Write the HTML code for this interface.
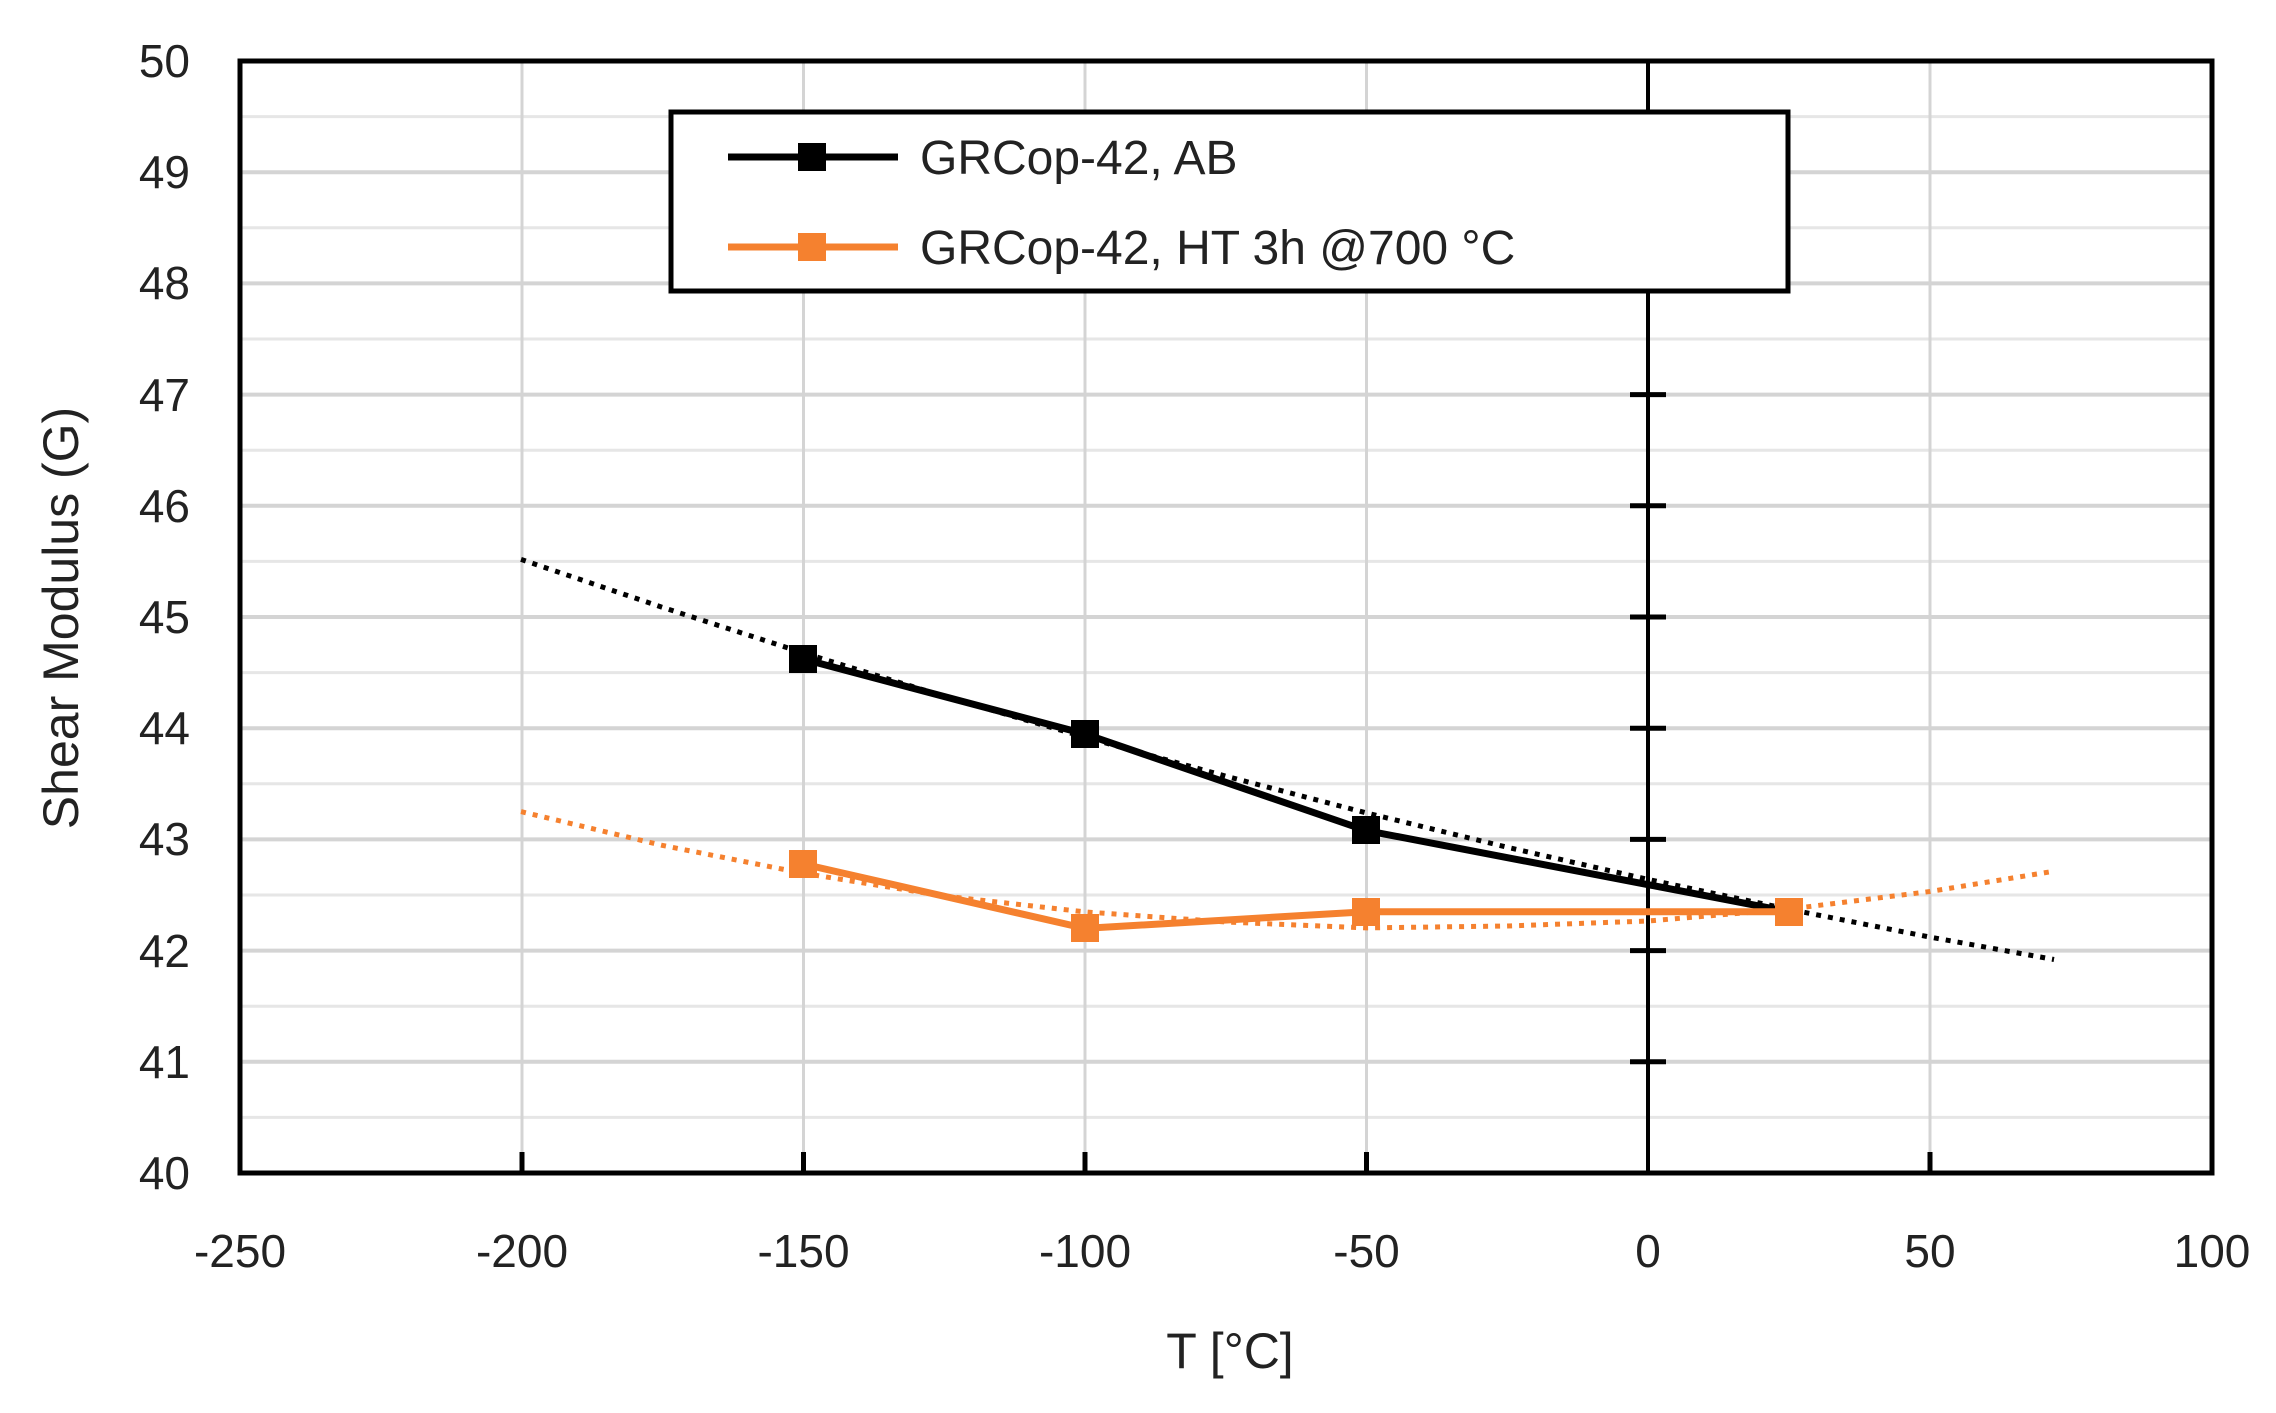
<!DOCTYPE html>
<html><head><meta charset="utf-8"><style>html,body{margin:0;padding:0;background:#fff}</style></head>
<body>
<svg width="2276" height="1408" xmlns="http://www.w3.org/2000/svg" font-family="Liberation Sans, DejaVu Sans, sans-serif">
<rect width="2276" height="1408" fill="#fff"/>
<g stroke="#e6e6e6" stroke-width="3">
<line x1="240" x2="2212" y1="116.6" y2="116.6"/><line x1="240" x2="2212" y1="227.8" y2="227.8"/><line x1="240" x2="2212" y1="339" y2="339"/><line x1="240" x2="2212" y1="450.2" y2="450.2"/><line x1="240" x2="2212" y1="561.4" y2="561.4"/><line x1="240" x2="2212" y1="672.6" y2="672.6"/><line x1="240" x2="2212" y1="783.8" y2="783.8"/><line x1="240" x2="2212" y1="895" y2="895"/><line x1="240" x2="2212" y1="1006.2" y2="1006.2"/><line x1="240" x2="2212" y1="1117.4" y2="1117.4"/>
</g>
<g stroke="#d4d4d4" stroke-width="4">
<line x1="240" x2="2212" y1="172.2" y2="172.2"/><line x1="240" x2="2212" y1="283.4" y2="283.4"/><line x1="240" x2="2212" y1="394.6" y2="394.6"/><line x1="240" x2="2212" y1="505.8" y2="505.8"/><line x1="240" x2="2212" y1="617" y2="617"/><line x1="240" x2="2212" y1="728.2" y2="728.2"/><line x1="240" x2="2212" y1="839.4" y2="839.4"/><line x1="240" x2="2212" y1="950.6" y2="950.6"/><line x1="240" x2="2212" y1="1061.8" y2="1061.8"/>
</g>
<g stroke="#d4d4d4" stroke-width="3">
<line x1="522" x2="522" y1="61" y2="1173"/><line x1="803.5" x2="803.5" y1="61" y2="1173"/><line x1="1085" x2="1085" y1="61" y2="1173"/><line x1="1366.5" x2="1366.5" y1="61" y2="1173"/><line x1="1930" x2="1930" y1="61" y2="1173"/>
</g>
<rect x="240" y="61" width="1972" height="1112" fill="none" stroke="#000" stroke-width="5"/>
<line x1="1648" x2="1648" y1="61" y2="1173" stroke="#000" stroke-width="4"/>
<g stroke="#000" stroke-width="5">
<line x1="1630" x2="1666" y1="172.2" y2="172.2"/><line x1="1630" x2="1666" y1="283.4" y2="283.4"/><line x1="1630" x2="1666" y1="394.6" y2="394.6"/><line x1="1630" x2="1666" y1="505.8" y2="505.8"/><line x1="1630" x2="1666" y1="617" y2="617"/><line x1="1630" x2="1666" y1="728.2" y2="728.2"/><line x1="1630" x2="1666" y1="839.4" y2="839.4"/><line x1="1630" x2="1666" y1="950.6" y2="950.6"/><line x1="1630" x2="1666" y1="1061.8" y2="1061.8"/>
<line x1="522" x2="522" y1="1173" y2="1152"/><line x1="803.5" x2="803.5" y1="1173" y2="1152"/><line x1="1085" x2="1085" y1="1173" y2="1152"/><line x1="1366.5" x2="1366.5" y1="1173" y2="1152"/><line x1="1930" x2="1930" y1="1173" y2="1152"/>
</g>
<g font-size="46" fill="#222" text-anchor="end">
<text x="190" y="77">50</text><text x="190" y="188">49</text><text x="190" y="299">48</text><text x="190" y="411">47</text><text x="190" y="522">46</text><text x="190" y="633">45</text><text x="190" y="744">44</text><text x="190" y="855">43</text><text x="190" y="967">42</text><text x="190" y="1078">41</text><text x="190" y="1189">40</text>
</g>
<g font-size="46" fill="#222" text-anchor="middle">
<text x="240" y="1267">-250</text><text x="522" y="1267">-200</text><text x="803.5" y="1267">-150</text><text x="1085" y="1267">-100</text><text x="1366.5" y="1267">-50</text><text x="1648" y="1267">0</text><text x="1930" y="1267">50</text><text x="2212" y="1267">100</text>
<text x="1230" y="1368" font-size="50">T [°C]</text>
<text transform="translate(78,618) rotate(-90)" font-size="50">Shear Modulus (G)</text>
</g>
<polyline points="521,559.4 662,607.2 803,652.8 944,696.2 1085,737.3 1225.5,776.1 1366,812.8 1507,847.2 1648,879.4 1789,909.3 1930,937.1 2054,959.5" fill="none" stroke="#000" stroke-width="5" stroke-dasharray="5,7"/>
<polyline points="521,811.6 662,845.3 803,873.2 944,896 1085,911.9 1226,922 1366,927.9 1507,926 1648,921 1789,909.1 1930,891.5 2054,871.2" fill="none" stroke="#f5812f" stroke-width="5" stroke-dasharray="5,7"/>
<polyline points="803,659 1085,734 1366,830.5 1789,911.7" fill="none" stroke="#000" stroke-width="7"/>
<polyline points="803,864 1085,928.4 1366,911.7 1789,911.7" fill="none" stroke="#f5812f" stroke-width="7"/>
<g fill="#000"><rect x="789" y="645" width="28" height="28"/><rect x="1071" y="720" width="28" height="28"/><rect x="1352" y="816" width="28" height="28"/></g>
<g fill="#f5812f"><rect x="789" y="850" width="28" height="28"/><rect x="1071" y="914" width="28" height="28"/><rect x="1352" y="898" width="28" height="28"/><rect x="1775" y="898" width="28" height="28"/></g>
<rect x="671" y="112" width="1117" height="179" fill="#fff" stroke="#000" stroke-width="5"/>
<line x1="728" x2="898" y1="157" y2="157" stroke="#000" stroke-width="7"/>
<rect x="798" y="143" width="28" height="28" fill="#000"/>
<line x1="728" x2="898" y1="247" y2="247" stroke="#f5812f" stroke-width="7"/>
<rect x="798" y="233" width="28" height="28" fill="#f5812f"/>
<g font-size="48" fill="#222"><text x="920" y="174">GRCop-42, AB</text><text x="920" y="264">GRCop-42, HT 3h @700 °C</text></g>
</svg>
</body></html>
